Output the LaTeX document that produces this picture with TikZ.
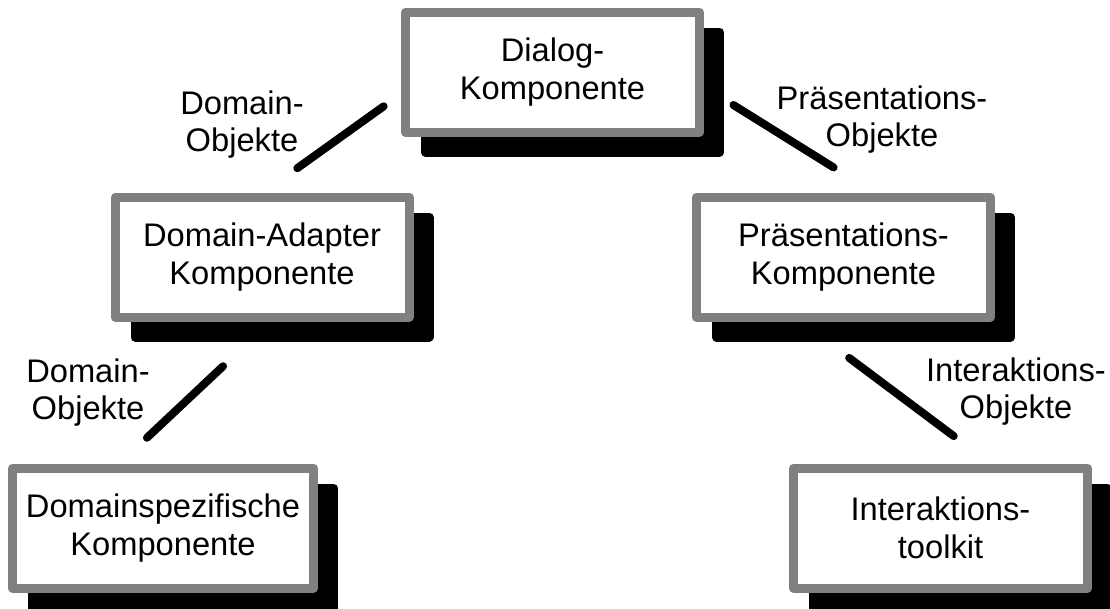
\documentclass[tikz,border=0pt]{standalone}
\usepackage{fontspec}
\setmainfont{Liberation Sans}
\definecolor{boxgray}{RGB}{128,128,128}
\tikzset{component/.style = {
    draw = boxgray,
    line width = 6.75pt,
    line join = round,
    fill = white,
    minimum width = 220.5pt,
    minimum height = 90pt,
    align = center,
    font = \fontsize{24.5pt}{28.5pt}\selectfont,
    preaction = {
        draw = black,
        fill = black,
        line width = 6.75pt,
        line join = round,
        transform canvas = {xshift = 15pt, yshift = -15pt}
    }
}}
\tikzset{objtext/.style = {
    align = center,
    inner sep = 0pt,
    font = \fontsize{24.5pt}{27.75pt}\selectfont
}}
\tikzset{link/.style = {
    line width = 6pt,
    line cap = round
}}

\begin{document}
\begin{tikzpicture}[x = 0.75pt, y = -0.75pt]
    \useasboundingbox 
        (0, 0) rectangle (1110, 608)
    ;

    % Components
    \node [component] (dialog) at (552.5, 72) {Dialog-\\Komponente};
    \node [component] (adapter) at (262, 257) {Domain-Adapter\\Komponente};
    \node [component] (praes) at (843.5, 257) {Präsentations-\\Komponente};
    \node [component, minimum width = 225.75pt] (domspez) at (163, 528) {Domainspezifische\\Komponente};
    \node [component] (toolkit) at (940.5, 528) {Interaktions-\\toolkit};

    % Objects
    \node [objtext] (domobjA) at (242, 125) {Domain-\\Objekte};
    \node [objtext] (praesobj) at (882, 120) {Präsentations-\\Objekte};
    \node [objtext] (domobjB) at (88, 393) {Domain-\\Objekte};
    \node [objtext] (interobj) at (1016, 392) {Interaktions-\\Objekte};

    % Lines
    \draw 
        [link, shorten < = 16pt, shorten > = 31.3pt]
        ([yshift = -16.4pt]dialog.west) -- ([xshift = 1pt]adapter.north)
    ;
    \draw 
        [link, shorten < = 26pt, shorten > = 35.5pt]
        ([yshift = -11pt]dialog.east) -- ([xshift = 22.7pt]praes.north)
    ;
    \draw 
        [link, shorten < = 49pt, shorten > = 28.2pt]
        ([xshift = 6.5pt]adapter.south) -- ([xshift = -32.6pt]domspez.north)
    ;
    \draw 
        [link, shorten < = 45.6pt, shorten > = 34.3pt]
        ([xshift = -32.25pt]praes.south) -- ([xshift = 37.4pt]toolkit.north)
    ;

\end{tikzpicture}
\end{document}
